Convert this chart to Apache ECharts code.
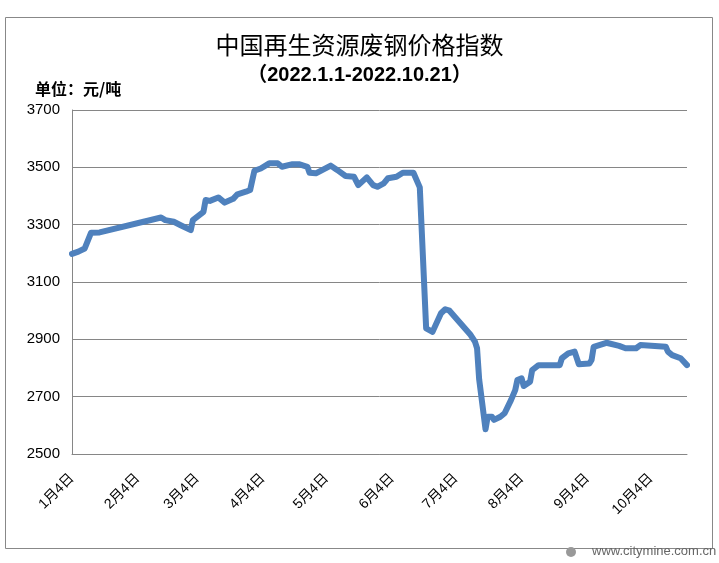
<!DOCTYPE html>
<html>
<head>
<meta charset="utf-8">
<script src="https://cdn.jsdelivr.net/npm/echarts@6/dist/echarts.min.js"></script>
<style>
html,body{margin:0;padding:0;background:#fff;}
#chart{width:719px;height:563px;}
</style>
</head>
<body>
<div id="chart"></div>
<script>
// ---- data ----
const dates = ['2022-01-04','2022-01-07','2022-01-10','2022-01-13','2022-01-17','2022-02-15','2022-02-17','2022-02-21','2022-02-24','2022-03-01','2022-03-02','2022-03-07','2022-03-08','2022-03-10','2022-03-14','2022-03-17','2022-03-21','2022-03-23','2022-03-27','2022-03-29','2022-03-31','2022-04-03','2022-04-07','2022-04-11','2022-04-13','2022-04-18','2022-04-21','2022-04-25','2022-04-26','2022-04-29','2022-05-06','2022-05-09','2022-05-13','2022-05-17','2022-05-19','2022-05-23','2022-05-26','2022-05-28','2022-05-31','2022-06-02','2022-06-06','2022-06-09','2022-06-14','2022-06-17','2022-06-20','2022-06-23','2022-06-27','2022-06-29','2022-07-01','2022-07-11','2022-07-13','2022-07-14','2022-07-15','2022-07-18','2022-07-19','2022-07-21','2022-07-22','2022-07-25','2022-07-27','2022-07-30','2022-08-01','2022-08-02','2022-08-04','2022-08-05','2022-08-08','2022-08-09','2022-08-12','2022-08-22','2022-08-23','2022-08-26','2022-08-29','2022-08-31','2022-09-05','2022-09-06','2022-09-07','2022-09-13','2022-09-19','2022-09-22','2022-09-27','2022-09-29','2022-10-11','2022-10-12','2022-10-14','2022-10-18','2022-10-21'];
const values = [3198,3206,3217,3272,3273,3325,3316,3310,3299,3281,3316,3345,3386,3383,3395,3377,3390,3406,3415,3421,3488,3496,3514,3514,3502,3511,3511,3502,3481,3479,3506,3491,3470,3467,3438,3465,3438,3432,3444,3462,3467,3481,3481,3430,2938,2926,2991,3005,3000,2915,2892,2869,2760,2586,2630,2630,2619,2630,2642,2688,2723,2758,2764,2737,2752,2793,2810,2810,2834,2851,2857,2813,2816,2828,2874,2888,2877,2869,2869,2880,2874,2857,2845,2834,2810];
const tickDates = ['2022-01-04','2022-02-04','2022-03-04','2022-04-04','2022-05-04','2022-06-04','2022-07-04','2022-08-04','2022-09-04','2022-10-04'];
const yTicks = [2500,2700,2900,3100,3300,3500,3700];
const titleText = '中国再生资源废钢价格指数';
const subTitleText = '（2022.1.1-2022.10.21）';
const unitText = '单位：元/吨';

function ts(s){const p=s.split('-');return new Date(+p[0],+p[1]-1,+p[2]).getTime();}

const chart = echarts.init(document.getElementById('chart'));
const numFont = 'Liberation Sans, Noto Sans CJK SC, sans-serif';
chart.setOption({
  animation:false,
  backgroundColor:'#fff',
  title:[
    {text:titleText,left:'center',top:28,textStyle:{fontFamily:'Noto Sans CJK SC',fontSize:24,fontWeight:'normal',color:'#000'}},
    {text:subTitleText,left:'center',top:60,textStyle:{fontFamily:'Liberation Sans, Noto Sans CJK SC',fontSize:20,fontWeight:'bold',color:'#000'}},
    {text:unitText,left:30,top:76,textStyle:{fontFamily:'Noto Sans CJK SC',fontSize:16,fontWeight:'bold',color:'#000'}}
  ],
  graphic:[
    {type:'rect',shape:{x:5.5,y:17.5,width:707,height:531},style:{fill:null,stroke:'#888',lineWidth:1},silent:true,z:-1},
    {type:'circle',shape:{cx:571,cy:552,r:5},style:{fill:'#999'},silent:true},
    {type:'text',left:592,top:545,style:{text:'www.citymine.com.cn',fontFamily:'Liberation Sans',fontSize:13,fill:'#666'},silent:true}
  ],
  grid:{left:72,top:110,right:32,bottom:109,containLabel:false},
  xAxis:{
    type:'value',
    min:ts(dates[0]),
    max:ts(dates[dates.length-1]),
    axisLine:{show:true,onZero:false,lineStyle:{color:'#868686',width:1}},
    axisTick:{show:false},
    splitLine:{show:false},
    axisLabel:{
      customValues:tickDates.map(ts),
      rotate:45,
      margin:22,
      fontFamily:numFont,
      fontSize:14,
      color:'#000',
      formatter:function(v){const d=new Date(v);return (d.getMonth()+1)+'月'+d.getDate()+'日';}
    }
  },
  yAxis:{
    type:'value',
    min:yTicks[0],
    max:yTicks[yTicks.length-1],
    interval:200,
    axisLine:{show:true,lineStyle:{color:'#868686',width:1}},
    axisTick:{show:false},
    splitLine:{show:true,lineStyle:{color:'#868686',width:1}},
    axisLabel:{margin:12,fontFamily:numFont,fontSize:15,color:'#000',formatter:function(v){return String(v);}}
  },
  series:[{
    type:'line',
    data:dates.map((d,i)=>[ts(d),values[i]]),
    showSymbol:false,
    symbol:'none',
    lineStyle:{color:'#4F81BD',width:6,cap:'round',join:'round'},
    clip:false
  }]
});
</script>
</body>
</html>
